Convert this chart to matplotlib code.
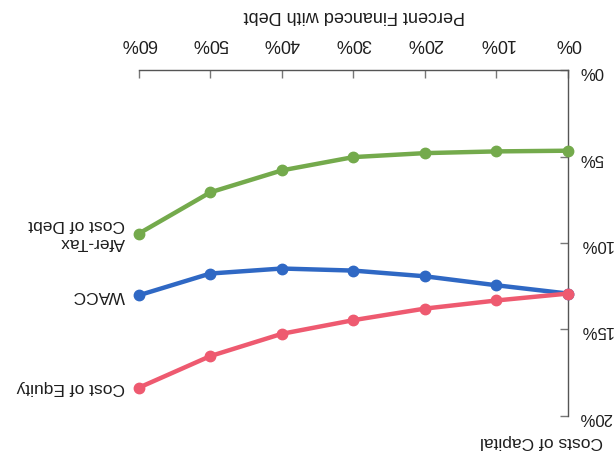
import matplotlib
matplotlib.use("Agg")
import matplotlib.pyplot as plt
from matplotlib.ticker import FuncFormatter

plt.rcParams['font.family'] = ['Liberation Sans', 'DejaVu Sans']

debt_pct = [0, 10, 20, 30, 40, 50, 60]
after_tax_cost_of_debt = [4.65, 4.69, 4.79, 5.02, 5.79, 7.06, 9.45]
wacc = [12.92, 12.44, 11.92, 11.59, 11.47, 11.76, 13.02]
cost_of_equity = [12.92, 13.32, 13.79, 14.46, 15.25, 16.54, 18.37]
series_labels = ["Afer-Tax\nCost of Debt", "WACC", "Cost of Equity"]
x_ticks = [0, 10, 20, 30, 40, 50, 60]
y_ticks = [0, 5, 10, 15, 20]

colors = ["#74aa4c", "#2f68c4", "#ee5a70"]
text_col = '#1e1e1e'

fig = plt.figure(figsize=(6.14, 4.57), dpi=100)
ax = fig.add_axes([0.226, 0.090, 0.699, 0.756])

series = [after_tax_cost_of_debt, wacc, cost_of_equity]
for vals, col, lab in zip(series, colors, series_labels):
    ax.plot(debt_pct, vals, color=col, lw=3.2, marker='o', ms=7.5,
            solid_capstyle='round', zorder=3, clip_on=False)
    ax.annotate(lab, xy=(debt_pct[-1], vals[-1]), xytext=(-10, 0),
                textcoords='offset points', ha='right', va='center',
                rotation=180, multialignment='left', fontsize=12.5,
                color=text_col)

ax.set_xlim(60, 0)
ax.set_ylim(20, 0)
ax.set_xticks(x_ticks)
ax.set_yticks(y_ticks)
ax.xaxis.set_major_formatter(FuncFormatter(lambda v, p: f"{int(v)}%"))
ax.yaxis.set_major_formatter(FuncFormatter(lambda v, p: f"{int(v)}%"))
ax.xaxis.tick_top()
ax.yaxis.tick_right()
for s in ['bottom', 'left']:
    ax.spines[s].set_visible(False)
for s in ['top', 'right']:
    ax.spines[s].set_color('#555555')
    ax.spines[s].set_linewidth(1.0)
ax.tick_params(axis='both', direction='in', length=6, width=1.0,
               color='#777777', labelcolor=text_col, labelrotation=180)
ax.tick_params(axis='x', pad=13, labelsize=13)
ax.tick_params(axis='y', pad=8, labelsize=12)

fig.text(0.577, 0.965, "Percent Financed with Debt", rotation=180,
         ha='center', va='center', fontsize=13, color=text_col)
fig.text(0.982, 0.035, "Costs of Capital", rotation=180, ha='right',
         va='center', fontsize=12.5, color=text_col)

fig.savefig("out.png", dpi=100)
